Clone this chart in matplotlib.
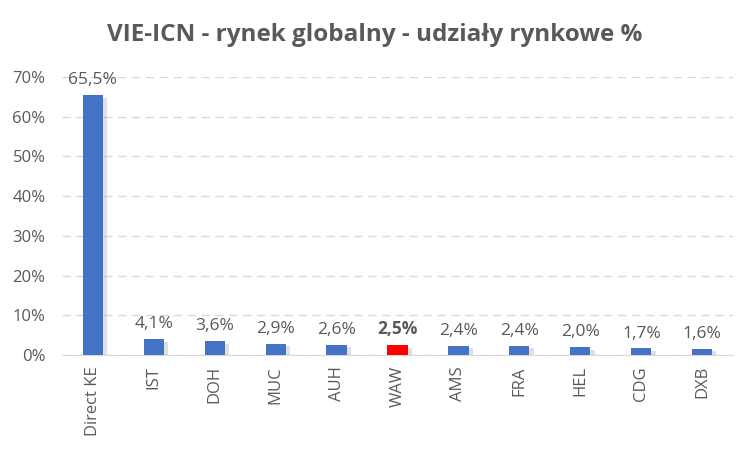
import matplotlib
matplotlib.use("Agg")
import matplotlib.pyplot as plt
import matplotlib.patheffects as pe
from matplotlib.ticker import FuncFormatter

categories = ["Direct KE", "IST", "DOH", "MUC", "AUH", "WAW", "AMS", "FRA", "HEL", "CDG", "DXB"]
values = [65.5, 4.1, 3.6, 2.9, 2.6, 2.5, 2.4, 2.4, 2.0, 1.7, 1.6]
highlight = "WAW"
title = "VIE-ICN - rynek globalny - udziały rynkowe %"

plt.rcParams['font.family'] = ['Open Sans', 'DejaVu Sans']
gray = "#595959"

fig = plt.figure(figsize=(7.5, 4.5), dpi=100)
ax = fig.add_axes([0.083, 0.211, 0.894, 0.618])

x = list(range(len(categories)))
colors = ["#FF0000" if c == highlight else "#4472C4" for c in categories]
bars = ax.bar(x, values, width=0.33, color=colors, zorder=3)
for b in bars:
    b.set_path_effects([pe.SimplePatchShadow(offset=(3, -2), shadow_rgbFace="#999999", alpha=0.3), pe.Normal()])

for xi, v, c in zip(x, values, categories):
    ax.text(xi, v + 1.7, f"{v:.1f}%".replace(".", ","), ha="center", va="bottom",
            fontsize=12.5, color=gray, fontweight="bold" if c == highlight else "normal", clip_on=False, zorder=4)

ax.set_xlim(-0.5, len(categories) - 0.5)
ax.set_ylim(0, 70)
ax.set_yticks(range(0, 71, 10))
ax.yaxis.set_major_formatter(FuncFormatter(lambda v, p: f"{int(v)}%"))
ax.set_xticks(x)
ax.set_xticklabels(categories, rotation=90)
ax.tick_params(axis="both", length=0, colors=gray, labelsize=12)
ax.tick_params(axis="x", pad=8)
ax.tick_params(axis="y", pad=12)
ax.grid(axis="y", linestyle=(0, (6, 4)), color="#d9d9d9", linewidth=1, zorder=0)
for s in ["top", "right", "left"]:
    ax.spines[s].set_visible(False)
ax.spines["bottom"].set_color("#d9d9d9")
ax.spines["bottom"].set_zorder(2)

fig.text(0.5, 0.922, title, ha="center", va="center", fontsize=17.5, fontweight="bold", color=gray)

fig.savefig("out.png", dpi=100)
